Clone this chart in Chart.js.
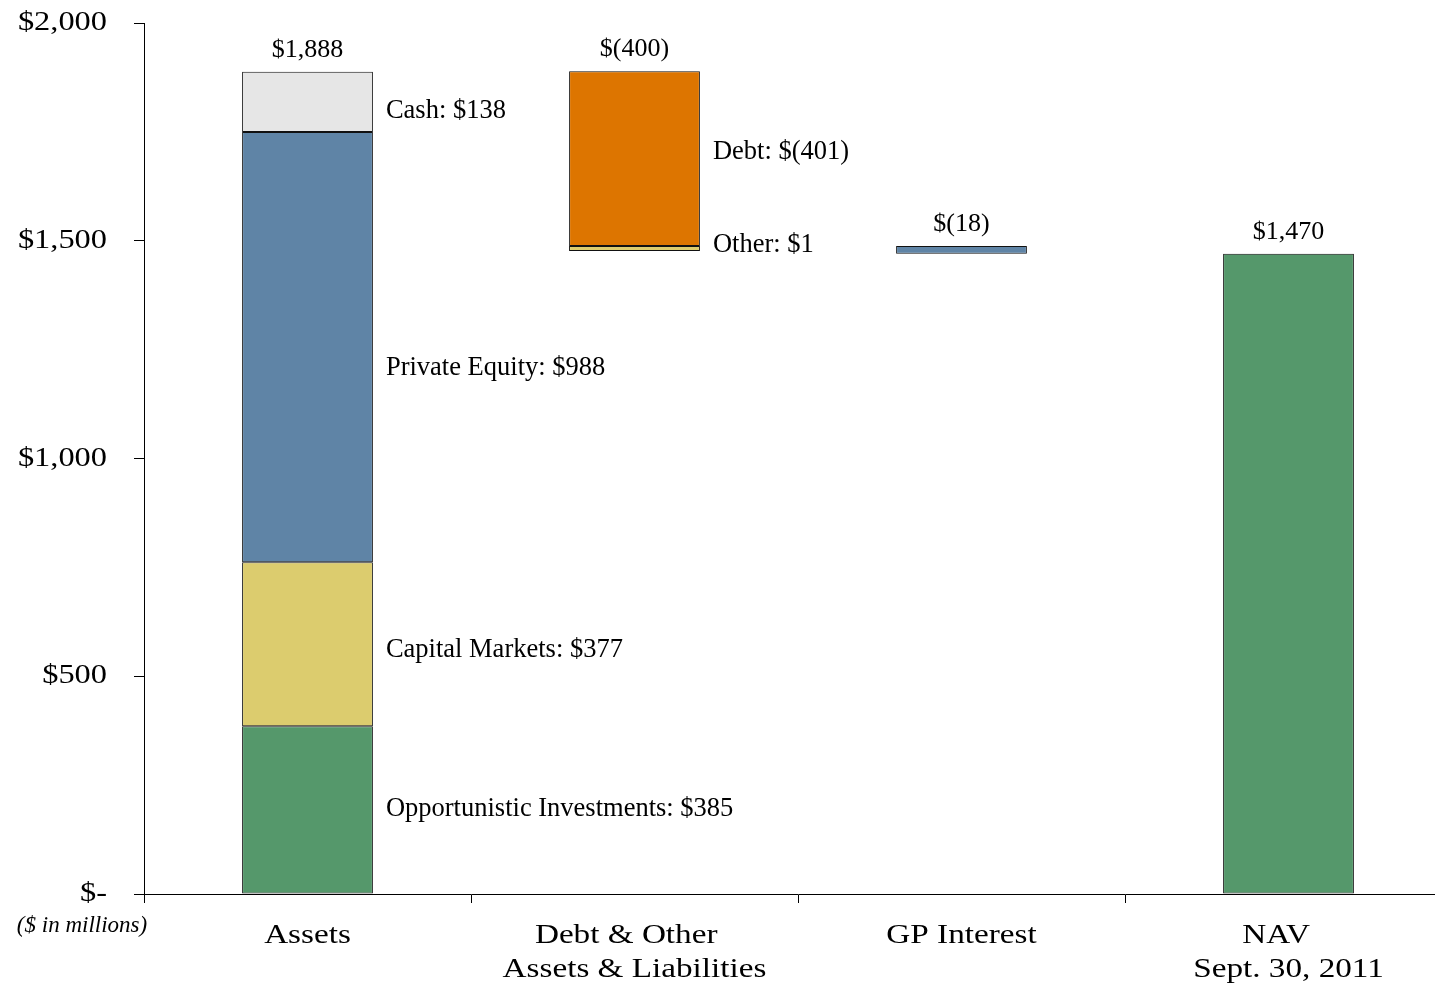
<!DOCTYPE html>
<html>
<head>
<meta charset="utf-8">
<title>NAV bridge</title>
<script src="https://cdn.jsdelivr.net/npm/chart.js@4.4.0/dist/chart.umd.min.js"></script>
<style>
  html, body { margin: 0; padding: 0; background: #fff; overflow: hidden; }
  #wrap { width: 1435px; height: 985px; overflow: hidden; }
</style>
</head>
<body>
<div id="wrap"><canvas id="navChart" width="1460" height="985"></canvas></div>
<script>
// values in $ millions
const categories = ['Assets', ['Debt & Other  ', 'Assets & Liabilities'], 'GP Interest', ['NAV   ', 'Sept. 30, 2011']];
const assetNames = ['Opportunistic Investments', 'Capital Markets', 'Private Equity', 'Cash'];
const assetValues = [385, 377, 988, 138];
const assetLabels = ['$385', '$377', '$988', '$138'];
const debtValue = -401;
const otherValue = 1;
const gpValue = -18;
const navValue = 1470;
const totalLabels = ['$1,888', '$(400)', '$(18)', '$1,470'];
const yTicks = [0, 500, 1000, 1500, 2000];
const yTickLabels = ['$-', '$500', '$1,000', '$1,500', '$2,000'];

const GREEN = '#55986b';
const YELLOW = '#dccc6e';
const BLUE = '#5f84a6';
const GREY = '#e6e6e6';
const ORANGE = '#dd7500';
const EDGE = '#111';
const FONT = "'Liberation Serif', 'Times New Roman', serif";

// waterfall levels
const assetsTotal = assetValues.reduce((s, v) => s + v, 0);
const debtTop = assetsTotal + otherValue;
const debtBottom = debtTop + debtValue;
const afterDebt = assetsTotal + debtValue + otherValue;

const segColors = [GREEN, YELLOW, BLUE, GREY];
let running = 0;
const assetSets = assetValues.map((v, i) => {
  const seg = [running, running + v];
  running += v;
  return {
    label: assetNames[i],
    data: [seg, null, null, null],
    backgroundColor: segColors[i]
  };
});

const datasets = [
  ...assetSets,
  { label: 'Debt', data: [null, [debtBottom, debtTop], null, null], backgroundColor: ORANGE },
  // +1 drawn as a thin strip under the debt block
  { label: 'Other', data: [null, debtBottom - otherValue, null, null], base: debtBottom, minBarLength: 5, backgroundColor: YELLOW },
  { label: 'GP Interest', data: [null, null, [afterDebt + gpValue, afterDebt], null], backgroundColor: BLUE },
  { label: 'NAV', data: [null, null, null, navValue], backgroundColor: GREEN }
].map(d => ({
  borderColor: EDGE,
  borderWidth: 1,
  borderSkipped: false,
  grouped: false,
  barPercentage: 0.5,
  categoryPercentage: 0.8,
  ...d
}));

// side annotations: dataset index -> text, with small vertical nudges in px
const sideNotes = [
  { ds: 0, cat: 0, text: 'Opportunistic Investments: ' + assetLabels[0], dy: -1 },
  { ds: 1, cat: 0, text: 'Capital Markets: ' + assetLabels[1], dy: 6 },
  { ds: 2, cat: 0, text: 'Private Equity: ' + assetLabels[2], dy: 21 },
  { ds: 3, cat: 0, text: 'Cash: ' + assetLabels[3], dy: 9 },
  { ds: 4, cat: 1, text: 'Debt: $(401)', dy: -7 },
  { ds: 5, cat: 1, text: 'Other: $1', dy: -3 }
];

function stretchedText(ctx, text, x, y, sx, align) {
  ctx.save();
  ctx.translate(x, y);
  ctx.scale(sx, 1);
  ctx.textAlign = align;
  ctx.fillText(text, 0, 0);
  ctx.restore();
}

const textPlugin = {
  id: 'bridgeText',
  afterDraw(chart) {
    const ctx = chart.ctx;
    const { x, y } = chart.scales;
    ctx.save();
    ctx.fillStyle = '#000';
    ctx.textBaseline = 'middle';

    // y tick labels
    ctx.font = `27px ${FONT}`;
    yTicks.forEach((v, i) => {
      stretchedText(ctx, yTickLabels[i], 107, y.getPixelForValue(v), 1.2, 'right');
    });

    // category labels
    categories.forEach((c, i) => {
      const lines = Array.isArray(c) ? c : [c];
      lines.forEach((line, j) => {
        stretchedText(ctx, line, x.getPixelForValue(i), 936 + j * 34, 1.23, 'center');
      });
    });

    ctx.font = `italic 23px ${FONT}`;
    ctx.textAlign = 'center';
    ctx.fillText('($ in millions)', 82, 926);

    // totals above each column
    ctx.font = `26px ${FONT}`;
    categories.forEach((c, i) => {
      let top = Infinity, cx = 0;
      chart.data.datasets.forEach((ds, di) => {
        const el = chart.getDatasetMeta(di).data[i];
        if (!el || ds.data[i] == null) return;
        top = Math.min(top, el.y, el.base);
        cx = el.x;
      });
      ctx.fillText(totalLabels[i], cx, top - 22);
    });

    // notes to the right of the bars
    ctx.font = `26.5px ${FONT}`;
    ctx.textAlign = 'left';
    sideNotes.forEach(n => {
      const el = chart.getDatasetMeta(n.ds).data[n.cat];
      const mid = (el.y + el.base) / 2;
      ctx.fillText(n.text, el.x + el.width / 2 + 13, mid + n.dy);
    });
    ctx.restore();
  }
};

new Chart(document.getElementById('navChart'), {
  type: 'bar',
  data: { labels: categories, datasets },
  options: {
    responsive: false,
    animation: false,
    layout: { padding: { left: 134, right: 8, top: 23, bottom: 82 } },
    plugins: { legend: { display: false }, tooltip: { enabled: false } },
    scales: {
      x: {
        ticks: { display: false },
        grid: { drawOnChartArea: false, color: '#000', tickLength: 9, offset: true },
        border: { color: '#000', width: 1 }
      },
      y: {
        min: 0,
        max: 2000,
        afterBuildTicks: s => { s.ticks = yTicks.map(v => ({ value: v })); },
        ticks: { display: false },
        grid: { drawOnChartArea: false, color: '#000', tickLength: 10 },
        border: { color: '#000', width: 1 }
      }
    }
  },
  plugins: [textPlugin]
});
</script>
</body>
</html>
